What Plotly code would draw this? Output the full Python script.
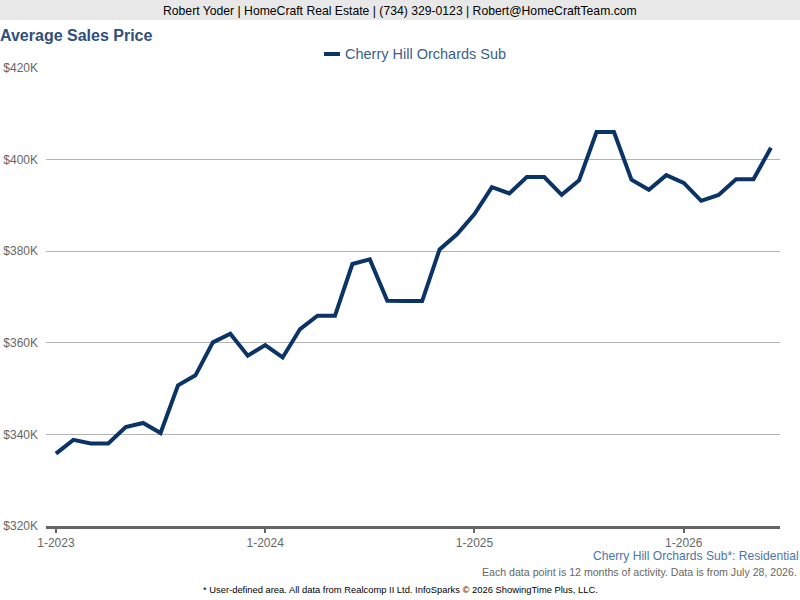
import plotly.graph_objects as go

# ---- data ----
months = list(range(42))  # Jan 2023 .. Jun 2026
prices = [335.8, 338.8, 338.0, 338.0, 341.6, 342.5, 340.3, 350.7, 352.9, 360.1,
          362.0, 357.2, 359.5, 356.8, 363.0, 365.9, 365.9, 377.2, 378.2, 369.2,
          369.1, 369.1, 380.4, 383.7, 388.1, 394.0, 392.6, 396.2, 396.2, 392.3,
          395.5, 406.0, 406.0, 395.6, 393.4, 396.6, 394.9, 391.0, 392.3, 395.7,
          395.7, 402.6]
prices = [p * 1000 for p in prices]
x_tickvals = [0, 12, 24, 36]
x_ticktext = ["1-2023", "1-2024", "1-2025", "1-2026"]
y_tickvals = [320000, 340000, 360000, 380000, 400000, 420000]
y_ticktext = ["$320K", "$340K", "$360K", "$380K", "$400K", "$420K"]
series_name = "Cherry Hill Orchards Sub"
line_color = "#0b3466"

# ---- layout geometry (pixels) ----
W, H = 800, 600
L, R, T, B = 46, 20, 68, 74
pw, ph = W - L - R, H - T - B


def px(x):
    return (x - L) / pw


def py(y):
    return (H - B - y) / ph


fig = go.Figure()
fig.add_trace(go.Scatter(
    x=months, y=prices, mode="lines", name=series_name,
    line=dict(color=line_color, width=4), showlegend=False,
))

font = "Liberation Sans, Arial, sans-serif"

fig.update_layout(
    width=W, height=H,
    margin=dict(l=L, r=R, t=T, b=B, autoexpand=False),
    paper_bgcolor="white", plot_bgcolor="white",
    font=dict(family=font, size=12, color="#666666"),
    xaxis=dict(range=[-0.57, 41.52], tickvals=x_tickvals, ticktext=x_ticktext,
               automargin=False,
               showgrid=False, zeroline=False, showline=True, linecolor="#666666",
               linewidth=3, ticks="outside", ticklen=4, tickwidth=2, tickcolor="#666666",
               tickfont=dict(size=12, color="#666666")),
    yaxis=dict(range=[320000, 420000], tickvals=y_tickvals, ticktext=y_ticktext,
               automargin=False,
               showgrid=True, gridcolor="#b3b3b3", gridwidth=1, zeroline=False,
               showline=False, ticks="", ticklabelstandoff=7,
               tickfont=dict(size=12, color="#666666")),
    shapes=[
        dict(type="rect", xref="paper", yref="paper", x0=px(0), x1=px(W),
             y0=py(20), y1=py(0), fillcolor="#e8e8e8", line=dict(width=0),
             layer="below"),
        # legend swatch
        dict(type="line", xref="paper", yref="paper", x0=px(324), x1=px(340),
             y0=py(54), y1=py(54), line=dict(color=line_color, width=4)),
    ],
    annotations=[
        dict(text="Robert Yoder | HomeCraft Real Estate | (734) 329-0123 | Robert@HomeCraftTeam.com",
             xref="paper", yref="paper", x=px(400), y=py(11), xanchor="center", yanchor="middle",
             showarrow=False, font=dict(size=12.2, color="#000000")),
        dict(text="<b>Average Sales Price</b>", xref="paper", yref="paper",
             x=px(-2.5), y=py(35), xanchor="left", yanchor="middle", showarrow=False,
             font=dict(size=16, color="#2f5079")),
        dict(text=series_name, xref="paper", yref="paper",
             x=px(343), y=py(54), xanchor="left", yanchor="middle", showarrow=False,
             font=dict(size=14.5, color="#3a5f8a")),
        dict(text="Cherry Hill Orchards Sub*: Residential", xref="paper", yref="paper",
             x=px(801), y=py(556), xanchor="right", yanchor="middle", showarrow=False,
             font=dict(size=12.1, color="#4a76a8")),
        dict(text="Each data point is 12 months of activity. Data is from July 28, 2026.",
             xref="paper", yref="paper", x=px(799), y=py(572), xanchor="right", yanchor="middle",
             showarrow=False, font=dict(size=10.6, color="#666666")),
        dict(text="* User-defined area. All data from Realcomp II Ltd. InfoSparks \u00a9 2026 ShowingTime Plus, LLC.",
             xref="paper", yref="paper", x=px(400), y=py(589), xanchor="center", yanchor="middle",
             showarrow=False, font=dict(size=9.4, color="#000000")),
    ],
)

fig.write_html("out.html")
